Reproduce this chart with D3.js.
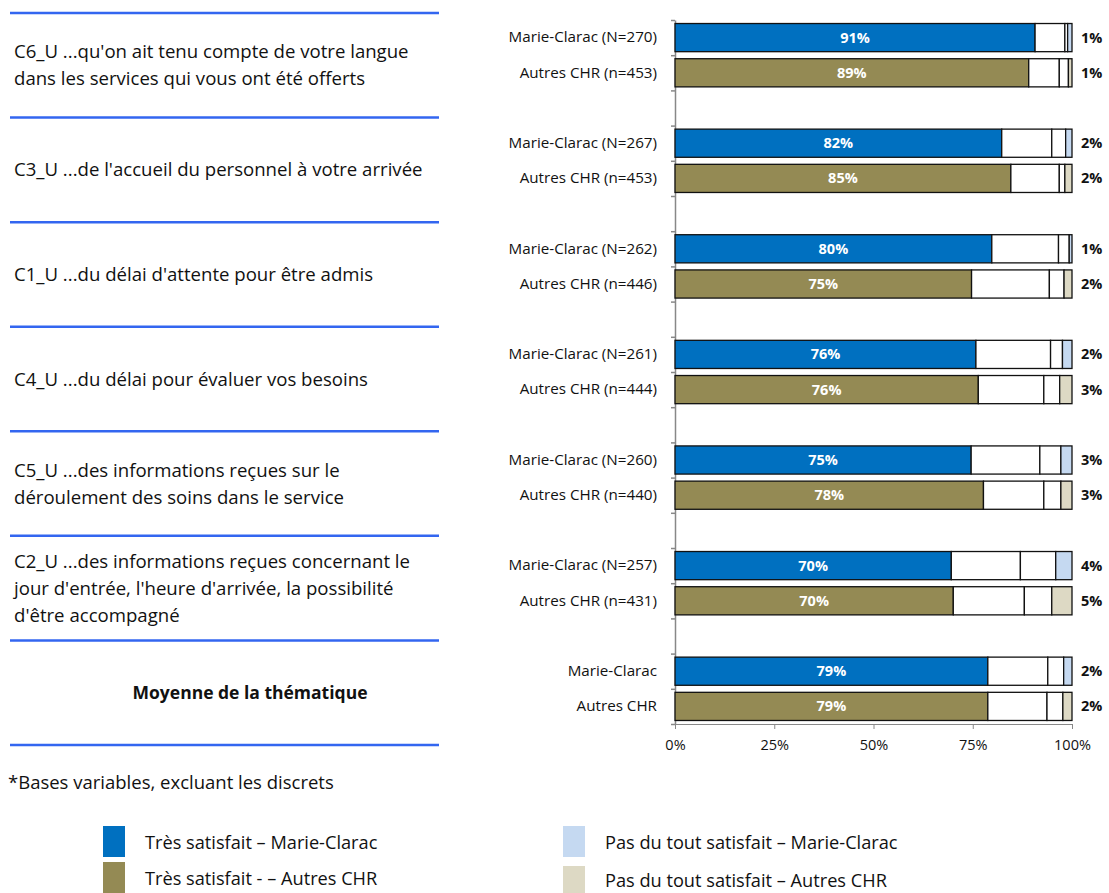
<!DOCTYPE html>
<html>
<head>
<meta charset="utf-8">
<script src="https://cdn.jsdelivr.net/npm/d3@7"></script>
<style>
  body { margin: 0; background: #fff; }
  text { font-family: "Open Sans", Lato, sans-serif; }
</style>
</head>
<body>
<svg></svg>
<script>
// questions (left panel), one array of lines per thematic item
let questions = [
    ["C6_U ...qu'on ait tenu compte de votre langue", "dans les services qui vous ont été offerts"],
    ["C3_U ...de l'accueil du personnel à votre arrivée"],
    ["C1_U ...du délai d'attente pour être admis"],
    ["C4_U ...du délai pour évaluer vos besoins"],
    ["C5_U ...des informations reçues sur le", "déroulement des soins dans le service"],
    ["C2_U ...des informations reçues concernant le", "jour d'entrée, l'heure d'arrivée, la possibilité", "d'être accompagné"],
    ["Moyenne de la thématique"]
]

let mcLabels = ["Marie-Clarac (N=270)", "Marie-Clarac (N=267)", "Marie-Clarac (N=262)", "Marie-Clarac (N=261)", "Marie-Clarac (N=260)", "Marie-Clarac (N=257)", "Marie-Clarac"]
let autresLabels = ["Autres CHR (n=453)", "Autres CHR (n=453)", "Autres CHR (n=446)", "Autres CHR (n=444)", "Autres CHR (n=440)", "Autres CHR (n=431)", "Autres CHR"]

// stacked percents: très / assez / peu / pas du tout satisfait
let mcTres   = [90.7, 82.3, 79.8, 75.8, 74.6, 69.6, 78.8]
let mcAssez  = [7.5, 12.6, 16.8, 18.8, 17.3, 17.4, 15.1]
let mcPeu    = [0.7, 3.5, 2.7, 3.0, 5.3, 8.9, 4.0]
let mcPas    = [1.1, 1.6, 0.7, 2.4, 2.8, 4.1, 2.1]

let auTres   = [89.1, 84.6, 74.7, 76.4, 77.7, 70.1, 78.8]
let auAssez  = [7.7, 12.2, 19.6, 16.5, 15.2, 17.9, 14.9]
let auPeu    = [2.3, 1.4, 3.7, 4.0, 4.3, 6.9, 4.0]
let auPas    = [0.9, 1.8, 2.0, 3.1, 2.8, 5.1, 2.3]

let tickValues = [0, 25, 50, 75, 100]
let footnote = "*Bases variables, excluant les discrets"
let legendLabels = ["Très satisfait – Marie-Clarac", "Très satisfait - – Autres CHR", "Pas du tout satisfait – Marie-Clarac", "Pas du tout satisfait – Autres CHR"]

let w = 1109
let h = 893
let colors = {
    mcTres: "#0070C0", auTres: "#948A54",
    mcPas: "#C5D9F1", auPas: "#DDD9C4",
    line: "#3366F0"
}

let svg = d3.select("svg").attr("width", w).attr("height", h)

// rows: two bars per item plus a blank row between groups
let rows = []
questions.forEach((q, i) => {
    rows.push({ key: "mc" + i, label: mcLabels[i], src: "mc", vals: [mcTres[i], mcAssez[i], mcPeu[i], mcPas[i]] })
    rows.push({ key: "au" + i, label: autresLabels[i], src: "au", vals: [auTres[i], auAssez[i], auPeu[i], auPas[i]] })
    if (i < questions.length - 1) rows.push({ key: "gap" + i, label: "", src: null, vals: null })
})

let x = d3.scaleLinear().domain([0, 100]).range([675, 1072])
let y = d3.scaleBand().domain(rows.map(d => d.key)).range([20, 724]).paddingInner(0.2).paddingOuter(0.1)
let yIdx = d3.scaleLinear().domain([0, rows.length]).range([20, 724])

// left panel
let panelY = d3.scaleLinear().domain([0, questions.length]).range([13, 745])
let panel = svg.append("g")
panel.selectAll("line")
    .data(d3.range(questions.length + 1))
    .enter()
    .append("line")
    .attr("x1", 10).attr("x2", 439)
    .attr("y1", d => panelY(d)).attr("y2", d => panelY(d))
    .attr("stroke", colors.line)
    .attr("stroke-width", 2.5)

questions.forEach((lines, i) => {
    let mid = (panelY(i) + panelY(i + 1)) / 2
    let last = i === questions.length - 1
    let t = panel.append("text")
        .attr("x", last ? 250 : 14)
        .attr("text-anchor", last ? "middle" : "start")
        .attr("font-size", last ? "17.5px" : "18.6px")
        .attr("font-weight", last ? "bold" : "normal")
        .attr("fill", "#111")
    lines.forEach((l, j) => {
        t.append("tspan")
            .attr("x", last ? 250 : 14)
            .attr("y", mid + (j - (lines.length - 1) / 2) * 27)
            .attr("dy", "0.35em")
            .text(l)
    })
})

svg.append("text")
    .attr("x", 8).attr("y", 783).attr("dy", "0.35em")
    .attr("font-size", "18.5px").attr("fill", "#111")
    .text(footnote)

// axes
let xAxis = d3.axisBottom(x).tickValues(tickValues).tickFormat(d => d + "%").tickSize(5).tickSizeOuter(0)
let gx = svg.append("g")
    .attr("transform", "translate(0," + 724 + ")")
    .call(xAxis)
gx.select(".domain").attr("stroke", "#888")
gx.selectAll(".tick line").attr("stroke", "#888")
gx.selectAll(".tick text").attr("font-size", "14.5px").attr("fill", "#111").attr("dy", "1.25em")
    .style("font-family", "'Open Sans', sans-serif")

let yTicks = d3.axisLeft(yIdx).tickValues(d3.range(rows.length + 1)).tickFormat("").tickSize(4).tickSizeOuter(0)
let gy = svg.append("g")
    .attr("transform", "translate(675,0)")
    .call(yTicks)
gy.select(".domain").attr("stroke", "#888").attr("stroke-width", 1.5)
gy.selectAll(".tick line").attr("stroke", "#888").attr("stroke-width", 1.5)

let yLabels = d3.axisLeft(y).tickSize(0).tickPadding(18).tickFormat(k => rows.find(r => r.key === k).label)
let gl = svg.append("g")
    .attr("transform", "translate(675,0)")
    .call(yLabels)
gl.select(".domain").remove()
gl.selectAll(".tick text").attr("font-size", "15.2px").attr("fill", "#111")
    .style("font-family", "'Open Sans', sans-serif")

// stacked bars
let barRows = rows.filter(r => r.src)
let segs = []
barRows.forEach(r => {
    let acc = 0
    r.vals.forEach((v, j) => {
        segs.push({ key: r.key, src: r.src, j: j, x0: acc, x1: acc + v, v: v })
        acc += v
    })
})

let segFill = d => {
    if (d.j === 0) return d.src === "mc" ? colors.mcTres : colors.auTres
    if (d.j === 3) return d.src === "mc" ? colors.mcPas : colors.auPas
    return "#fff"
}

svg.append("g")
    .selectAll("rect")
    .data(segs)
    .enter()
    .append("rect")
    .attr("x", d => x(d.x0))
    .attr("y", d => y(d.key))
    .attr("width", d => x(d.x1) - x(d.x0))
    .attr("height", y.bandwidth())
    .attr("fill", segFill)
    .attr("stroke", "#111")
    .attr("stroke-width", 1.3)

// value labels
svg.append("g")
    .selectAll("text")
    .data(segs.filter(d => d.j === 0))
    .enter()
    .append("text")
    .attr("x", d => (x(d.x0) + x(d.x1)) / 2)
    .attr("y", d => y(d.key) + y.bandwidth() / 2)
    .attr("dy", "0.35em")
    .attr("text-anchor", "middle")
    .attr("font-size", "14.5px")
    .attr("font-weight", "bold")
    .attr("fill", "#fff")
    .text(d => Math.round(d.v) + "%")

svg.append("g")
    .selectAll("text")
    .data(segs.filter(d => d.j === 3))
    .enter()
    .append("text")
    .attr("x", x(100) + 9)
    .attr("y", d => y(d.key) + y.bandwidth() / 2)
    .attr("dy", "0.35em")
    .attr("font-size", "14.5px")
    .attr("font-weight", "bold")
    .attr("fill", "#111")
    .text(d => Math.round(d.v) + "%")

// legend
let legendItems = [
    { label: legendLabels[0], color: colors.mcTres, x: 103, y: 826, h: 31, ty: 843 },
    { label: legendLabels[1], color: colors.auTres, x: 103, y: 862, h: 31, ty: 879 },
    { label: legendLabels[2], color: colors.mcPas, x: 563, y: 826, h: 31, ty: 843 },
    { label: legendLabels[3], color: colors.auPas, x: 563, y: 866, h: 27, ty: 881 }
]
let lg = svg.append("g")
lg.selectAll("rect")
    .data(legendItems)
    .enter()
    .append("rect")
    .attr("x", d => d.x).attr("y", d => d.y)
    .attr("width", 22).attr("height", d => d.h)
    .attr("fill", d => d.color)
lg.selectAll("text")
    .data(legendItems)
    .enter()
    .append("text")
    .attr("x", d => d.x + 42)
    .attr("y", d => d.ty)
    .attr("dy", "0.35em")
    .attr("font-size", "18.2px")
    .attr("fill", "#111")
    .text(d => d.label)
</script>
</body>
</html>
